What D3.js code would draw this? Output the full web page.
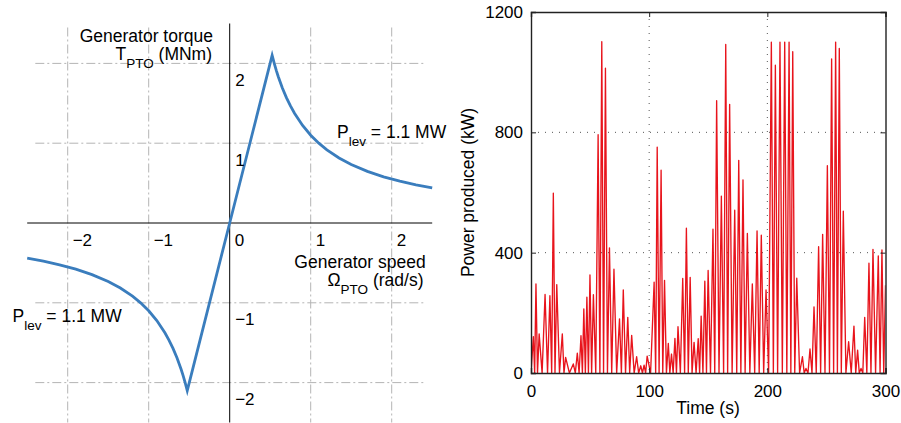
<!DOCTYPE html>
<html>
<head>
<meta charset="utf-8">
<script src="https://cdn.jsdelivr.net/npm/d3@7/dist/d3.min.js"></script>
<style>
  html, body { margin: 0; padding: 0; background: #fff; }
  svg { display: block; font-family: "Liberation Sans", Arial, Helvetica, sans-serif; }
</style>
</head>
<body>
<svg id="chart" width="901" height="423"></svg>
<script>
// ---------- Left panel: generator torque vs speed ----------
const omega = [-2.5, -2.3, -2.1, -1.9, -1.7, -1.5, -1.35, -1.2, -1.1, -1.0, -0.9, -0.8, -0.75, -0.7, -0.65, -0.6, -0.575, -0.55, -0.524,
               0, 0.524, 0.55, 0.575, 0.6, 0.65, 0.7, 0.75, 0.8, 0.9, 1.0, 1.1, 1.2, 1.35, 1.5, 1.7, 1.9, 2.1, 2.3, 2.5];
const torque = [-0.44, -0.478, -0.524, -0.579, -0.647, -0.733, -0.815, -0.917, -1.0, -1.1, -1.222, -1.375, -1.467, -1.571, -1.692, -1.833, -1.913, -2.0, -2.1,
                0, 2.1, 2.0, 1.913, 1.833, 1.692, 1.571, 1.467, 1.375, 1.222, 1.1, 1.0, 0.917, 0.815, 0.733, 0.647, 0.579, 0.524, 0.478, 0.44];
const leftXTicks = [-2, -1, 0, 1, 2];
const leftYTicks = [-2, -1, 1, 2];
const leftGrid = [-2, -1, 1, 2];

// ---------- Right panel: power produced vs time ----------
const time = [0, 2.0, 3.1, 4.2, 5.5, 6.9, 9.4, 11.9, 14.0, 16.0, 17.5, 18.9, 20.3, 21.8, 24.1, 26.5, 27.9, 29.3, 32.5, 35.8,
  37.5, 39.2, 40.7, 42.3, 43.5, 44.7, 46.0, 47.3, 48.6, 49.9, 51.3, 52.8, 54.8, 56.8, 58.3, 59.9, 61.4, 63.0, 64.7, 66.4,
  68.3, 70.2, 72.5, 74.9, 76.5, 78.1, 80.0, 81.9, 83.5, 85.2, 87.3, 89.4, 91.1, 92.9, 94.3, 95.7, 97.0, 98.3, 101.2, 104.2,
  105.5, 106.8, 108.4, 110.1, 111.5, 113.0, 114.6, 116.2, 117.5, 118.9, 120.3, 121.8, 123.1, 124.4, 126.4, 128.4, 130.0, 131.5, 133.1, 134.7,
  136.3, 138.0, 139.7, 141.5, 142.7, 144.0, 145.5, 147.1, 148.5, 149.9, 151.9, 154.0, 155.5, 157.1, 159.1, 161.1, 163.0, 164.8, 166.4, 168.1,
  170.2, 172.4, 174.1, 175.8, 177.6, 179.4, 181.2, 183.1, 185.2, 187.3, 189.3, 191.3, 193.1, 194.9, 196.9, 198.9, 201.1, 203.4, 205.1, 206.8,
  208.7, 210.7, 212.7, 214.7, 216.5, 218.4, 219.9, 221.5, 223.2, 224.9, 227.3, 229.7, 231.2, 232.7, 234.4, 236.1, 237.8, 239.5, 241.4, 243.4,
  245.1, 246.8, 248.8, 250.8, 252.6, 254.4, 256.1, 257.8, 259.3, 260.9, 262.6, 264.3, 266.5, 268.8, 271.0, 273.3, 274.8, 276.4, 277.8, 279.3,
  280.8, 282.4, 284.2, 286.0, 287.7, 289.4, 291.6, 293.9, 295.4, 297.0, 298.5, 300];
const power = [0, 121, 0, 296, 0, 130, 0, 261, 0, 257, 0, 598, 0, 294, 0, 130, 0, 52, 0, 30,
  0, 66, 0, 124, 0, 213, 0, 252, 0, 326, 0, 260, 0, 792, 0, 1101, 0, 1013, 0, 416,
  0, 345, 0, 180, 0, 276, 0, 185, 0, 125, 0, 54, 0, 24, 0, 26, 0, 56, 0, 302,
  0, 751, 0, 674, 0, 308, 0, 98, 0, 63, 0, 115, 0, 154, 0, 314, 0, 481, 0, 318,
  0, 102, 0, 114, 0, 189, 0, 305, 0, 341, 0, 478, 0, 905, 0, 588, 0, 1092, 0, 893,
  0, 541, 0, 707, 0, 642, 0, 464, 0, 296, 0, 472, 0, 458, 0, 276, 0, 1100, 0, 1023,
  0, 1100, 0, 1100, 0, 1100, 0, 1068, 0, 315, 0, 54, 0, 15, 0, 80, 0, 220, 0, 420,
  0, 461, 0, 689, 0, 1044, 0, 1100, 0, 1079, 0, 538, 0, 104, 0, 156, 0, 76, 0, 15,
  0, 185, 0, 365, 0, 411, 0, 389, 0, 409, 0, 292];
const rightXTicks = [0, 100, 200, 300];
const rightYTicks = [0, 400, 800, 1200];

const svg = d3.select("#chart");
const FS = 17, TFS = 17.5, SUB = 13.5;

// ================= LEFT PANEL =================
const lx = d3.scaleLinear().domain([-2.5, 2.5]).range([27.2, 432.2]);
const ly = d3.scaleLinear().domain([-2.5, 2.5]).range([422.5, 23.5]);
const L = svg.append("g");

// grid (dash-dot)
L.selectAll(".vg").data(leftGrid).join("line")
  .attr("x1", d => lx(d)).attr("x2", d => lx(d))
  .attr("y1", ly(2.45)).attr("y2", ly(-2.5))
  .attr("stroke", "#b4b4b4").attr("stroke-width", 1).attr("stroke-dasharray", "9,3,2,3");
L.selectAll(".hg").data(leftGrid).join("line")
  .attr("y1", d => ly(d)).attr("y2", d => ly(d))
  .attr("x1", lx(-2.4)).attr("x2", lx(2.4))
  .attr("stroke", "#b4b4b4").attr("stroke-width", 1).attr("stroke-dasharray", "9,3,2,3");

// axes
L.append("line").attr("x1", lx(-2.5)).attr("x2", lx(2.5)).attr("y1", ly(0)).attr("y2", ly(0))
  .attr("stroke", "#000").attr("stroke-width", 1);
L.append("line").attr("x1", lx(0)).attr("x2", lx(0)).attr("y1", ly(2.5)).attr("y2", ly(-2.5))
  .attr("stroke", "#000").attr("stroke-width", 1);

// curve
const curvePts = omega.map((w, i) => [w, torque[i]]);
L.append("path").datum(curvePts)
  .attr("d", d3.line().x(d => lx(d[0])).y(d => ly(d[1])))
  .attr("fill", "none").attr("stroke", "#3a7dbd").attr("stroke-width", 2.8)
  .attr("stroke-linejoin", "miter");

// tick labels
const fmtMinus = d => d < 0 ? "\u2212" + Math.abs(d) : String(d);
L.selectAll(".xt").data(leftXTicks).join("text")
  .attr("x", d => lx(d) + 5).attr("y", ly(0) + 23)
  .attr("font-size", FS).text(fmtMinus);
L.selectAll(".yt").data(leftYTicks).join("text")
  .attr("x", lx(0) + 5.5).attr("y", d => ly(d) + 22.5)
  .attr("font-size", FS).text(fmtMinus);

// axis titles
L.append("text").attr("x", 213).attr("y", 41.5).attr("text-anchor", "end")
  .attr("font-size", TFS).text("Generator torque");
const t2 = L.append("text").attr("x", 212).attr("y", 60).attr("text-anchor", "end").attr("font-size", TFS);
t2.append("tspan").text("T");
t2.append("tspan").attr("font-size", SUB).attr("dy", 7.5).text("PTO");
t2.append("tspan").attr("dy", -7.5).text(" (MNm)");

L.append("text").attr("x", 425.7).attr("y", 267.5).attr("text-anchor", "end")
  .attr("font-size", TFS).text("Generator speed");
const t3 = L.append("text").attr("x", 423.5).attr("y", 286).attr("text-anchor", "end").attr("font-size", TFS);
t3.append("tspan").text("\u03A9");
t3.append("tspan").attr("font-size", SUB).attr("dy", 8).text("PTO");
t3.append("tspan").attr("dy", -8).text(" (rad/s)");

function plev(g, x, y) {
  const t = g.append("text").attr("x", x).attr("y", y).attr("font-size", TFS);
  t.append("tspan").text("P");
  t.append("tspan").attr("font-size", SUB).attr("dy", 8.5).text("lev");
  t.append("tspan").attr("dy", -8.5).text(" = 1.1 MW");
}
plev(L, 337, 137.5);
plev(L, 12.5, 321.7);

// ================= RIGHT PANEL =================
const rx = d3.scaleLinear().domain([0, 300]).range([531, 885.5]);
const ry = d3.scaleLinear().domain([0, 1200]).range([373, 12]);
const R = svg.append("g");

// grid (dotted)
R.selectAll(".rvg").data(rightXTicks.slice(1, -1)).join("line")
  .attr("x1", d => rx(d)).attr("x2", d => rx(d)).attr("y1", ry(1200)).attr("y2", ry(0))
  .attr("stroke", "#555").attr("stroke-width", 1).attr("stroke-dasharray", "1,6");
R.selectAll(".rhg").data(rightYTicks.slice(1, -1)).join("line")
  .attr("y1", d => ry(d)).attr("y2", d => ry(d)).attr("x1", rx(0)).attr("x2", rx(300))
  .attr("stroke", "#555").attr("stroke-width", 1).attr("stroke-dasharray", "1,6");

// clip
svg.append("defs").append("clipPath").attr("id", "rclip").append("rect")
  .attr("x", rx(0)).attr("y", ry(1200)).attr("width", rx(300) - rx(0)).attr("height", ry(0) - ry(1200));

// series
const series = time.map((t, i) => [t, power[i]]);
R.append("path").datum(series).attr("clip-path", "url(#rclip)")
  .attr("d", d3.line().x(d => rx(d[0])).y(d => ry(d[1])))
  .attr("fill", "none").attr("stroke", "#e8141c").attr("stroke-width", 1.35)
  .attr("stroke-linejoin", "round");

// axes via d3 axis (ticks inside)
const xAxis = R.append("g").attr("transform", `translate(0,${ry(0)})`)
  .call(d3.axisBottom(rx).tickValues(rightXTicks).tickSize(-5).tickPadding(12).tickFormat(d3.format("d")));
const yAxis = R.append("g").attr("transform", `translate(${rx(0)},0)`)
  .call(d3.axisLeft(ry).tickValues(rightYTicks).tickSize(-5).tickPadding(8).tickFormat(d3.format("d")));
R.append("g").attr("transform", `translate(0,${ry(1200)})`)
  .call(d3.axisTop(rx).tickValues(rightXTicks).tickSize(-5).tickFormat(""));
R.append("g").attr("transform", `translate(${rx(300)},0)`)
  .call(d3.axisRight(ry).tickValues(rightYTicks).tickSize(-5).tickFormat(""));
R.selectAll(".domain").attr("stroke", "#222").attr("stroke-width", 1.4);
R.selectAll(".tick line").attr("stroke", "#222");
R.selectAll(".tick text").attr("font-size", FS).attr("font-family", "Liberation Sans, Arial, sans-serif").attr("fill", "#000");
xAxis.selectAll(".tick text").attr("dy", "0.71em");

R.append("text").attr("x", 708).attr("y", 414).attr("text-anchor", "middle")
  .attr("font-size", TFS).text("Time (s)");
R.append("text").attr("transform", "translate(474,192.5) rotate(-90)").attr("text-anchor", "middle")
  .attr("font-size", TFS).text("Power produced (kW)");
</script>
</body>
</html>
